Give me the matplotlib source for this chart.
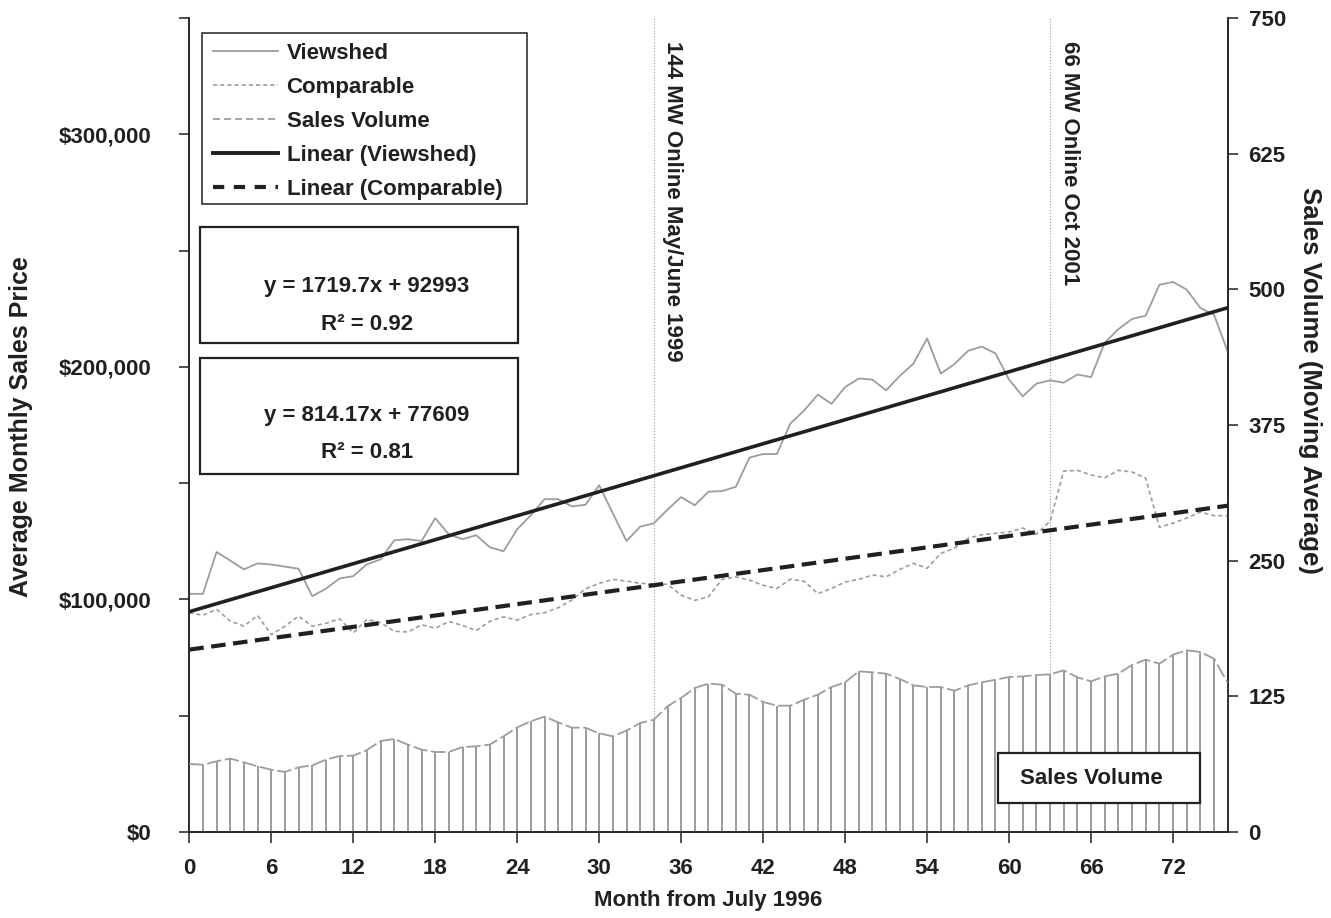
import matplotlib
matplotlib.use('Agg')
import matplotlib.pyplot as plt
from matplotlib.patches import Rectangle
from matplotlib.lines import Line2D
import matplotlib.transforms as mtransforms
import numpy as np

# Month index from July 1996
months = np.arange(77)

# Average monthly sales price, $ thousands
viewshed_k = [102.4, 102.4, 120.4, 116.7, 112.9, 115.5, 115.0, 114.1, 113.2, 101.4,
              104.6, 109.0, 110.0, 115.1, 117.2, 125.4, 125.9, 125.1, 134.9, 128.0,
              125.9, 127.6, 122.4, 120.7, 130.2, 136.2, 143.1, 143.1, 140.0, 140.7,
              149.1, 137.0, 125.1, 131.3, 132.7, 138.6, 144.0, 140.5, 146.3, 146.6,
              148.4, 161.0, 162.5, 162.5, 175.7, 181.2, 188.1, 184.1, 191.3, 195.0,
              194.5, 189.9, 196.1, 201.4, 212.2, 197.1, 201.2, 206.9, 208.7, 205.8,
              194.5, 187.3, 192.8, 194.2, 193.2, 196.7, 195.6, 210.4, 216.2, 220.6,
              222.0, 235.3, 236.5, 233.2, 225.3, 222.4, 206.5]

comparable_k = [94.3, 93.2, 95.7, 90.7, 88.5, 93.1, 84.9, 88.5, 92.8, 88.5,
                89.7, 91.7, 85.6, 91.4, 90.0, 86.3, 86.0, 89.1, 87.6, 90.5,
                88.8, 86.6, 90.6, 92.5, 91.1, 93.5, 94.3, 96.4, 99.7, 104.6,
                106.9, 108.6, 107.9, 106.9, 106.7, 106.5, 101.8, 99.6, 101.1, 108.7,
                109.7, 108.3, 106.1, 104.7, 108.7, 107.8, 102.5, 104.7, 107.5, 108.6,
                110.5, 109.7, 112.9, 115.5, 113.4, 119.8, 122.0, 126.3, 127.8, 128.4,
                129.0, 130.7, 128.1, 133.6, 155.2, 155.5, 153.5, 152.3, 155.5, 154.8,
                152.1, 131.0, 132.8, 135.0, 137.6, 136.0, 136.0]

# Sales volume (moving average)
volume = [62.6, 62.0, 65.1, 67.6, 64.2, 60.5, 57.4, 55.3, 59.6, 61.4,
          66.6, 70.0, 70.3, 75.5, 83.8, 85.7, 80.5, 75.9, 73.7, 73.7,
          78.3, 78.9, 80.5, 88.1, 96.4, 102.0, 106.3, 101.0, 96.1, 96.1,
          90.9, 88.1, 93.4, 100.4, 103.5, 115.8, 123.5, 132.7, 136.7, 135.7,
          127.4, 126.5, 119.8, 116.4, 116.4, 121.9, 126.5, 133.6, 137.9, 148.0,
          147.1, 145.9, 141.0, 135.1, 133.6, 133.6, 130.2, 135.1, 137.9, 140.3,
          142.8, 143.4, 144.6, 145.3, 148.9, 142.5, 138.8, 143.4, 145.9, 153.9,
          158.8, 155.1, 163.4, 167.4, 165.8, 159.7, 137.3]

# Excel trendline coefficients (x counted from 1)
trend_viewshed = (1719.7, 92993)
trend_comparable = (814.17, 77609)
r2_viewshed = 0.92
r2_comparable = 0.81

# Wind project events
event_months = [34, 63]
event_labels = ['144 MW Online May/June 1999', '66 MW Online Oct 2001']

viewshed = np.array(viewshed_k) * 1000
comparable = np.array(comparable_k) * 1000
xs = months + 1
lin_view = trend_viewshed[0] * xs + trend_viewshed[1]
lin_comp = trend_comparable[0] * xs + trend_comparable[1]

plt.rcParams['font.family'] = ['Liberation Sans', 'DejaVu Sans']
plt.rcParams['font.weight'] = 'bold'
plt.rcParams['font.size'] = 16

ink = '#231f20'
grey = '#989ea4'
bar_grey = '#8d959c'

fig = plt.figure(figsize=(13.31, 9.18), dpi=100)
ax = fig.add_axes([0.1422, 0.0937, 0.7802, 0.8867])
ax2 = ax.twinx()

# price series + trendlines
ax.plot(months, viewshed, color=grey, lw=1.3, zorder=3)
ax.plot(months, comparable, color=grey, lw=1.2, dashes=(2.5, 1.8), zorder=3)
ax.plot(months, lin_view, color=ink, lw=2.6, zorder=4)
ax.plot(months, lin_comp, color=ink, lw=3.0, dashes=(3.5, 1.8), zorder=4)

# event markers
trans = mtransforms.blended_transform_factory(ax.transData, ax.transAxes)
for m, lab in zip(event_months, event_labels):
    ax.axvline(m, color='#9a9a9a', lw=0.8, ls=':', zorder=2)
    ax.text(m + 1.4, 0.972, lab, rotation=270, ha='center', va='top',
            fontsize=16, fontweight='bold', color=ink, transform=trans)

# sales volume: drop lines + dashed outline
ax2.vlines(months, 0, volume, color=bar_grey, lw=1.3, zorder=2)
ax2.plot(months, volume, color=grey, lw=1.3, dashes=(8, 2), zorder=3)

ax.set_xlim(0, 76)
ax.set_ylim(0, 350000)
ax2.set_ylim(0, 750)

ax.set_xticks(np.arange(0, 73, 6))
ax.set_yticks([0, 100000, 200000, 300000])
ax.set_yticks([50000, 150000, 250000, 350000], minor=True)
ax.set_yticklabels(['${:,.0f}'.format(v) for v in [0, 100000, 200000, 300000]])
ax2.set_yticks(np.arange(0, 751, 125))

ax.tick_params(axis='y', which='both', direction='out', length=7, width=1.1,
               pad=20, labelsize=16, colors=ink)
ax.tick_params(axis='x', direction='out', length=8, width=1.1, pad=11,
               labelsize=16, colors=ink)
ax2.tick_params(axis='y', direction='out', length=7, width=1.1, pad=8,
                labelsize=16, colors=ink)

for a in (ax, ax2):
    a.spines['top'].set_visible(False)
    for s in ('left', 'right', 'bottom'):
        a.spines[s].set_linewidth(1.1)
        a.spines[s].set_color(ink)

fig.text(0.532, 0.019, 'Month from July 1996', ha='center', va='center',
         fontsize=16, fontweight='bold', color=ink)
fig.text(0.0158, 0.535, 'Average Monthly Sales Price', rotation=90, ha='center',
         va='center', fontsize=18, fontweight='bold', color=ink)
fig.text(0.984, 0.586, 'Sales Volume (Moving Average)', rotation=270, ha='center',
         va='center', fontsize=18.5, fontweight='bold', color=ink)

# legend (frame drawn separately so its size matches the original)
handles = [
    Line2D([], [], color=grey, lw=1.3),
    Line2D([], [], color=grey, lw=1.2, dashes=(2.5, 1.8)),
    Line2D([], [], color=grey, lw=1.3, dashes=(3.9, 2.2)),
    Line2D([], [], color=ink, lw=2.8),
    Line2D([], [], color=ink, lw=3.0, dashes=(2.7, 2.3)),
]
labels = ['Viewshed', 'Comparable', 'Sales Volume', 'Linear (Viewshed)',
          'Linear (Comparable)']
leg = ax2.legend(handles, labels, loc='upper left', bbox_to_anchor=(0.0231, 0.969),
                 borderaxespad=0, borderpad=0, fontsize=16, labelspacing=0.58,
                 handlelength=2.9, handletextpad=0.4, frameon=False)
for t in leg.get_texts():
    t.set_color(ink)
ax2.add_patch(Rectangle((0.0119, 0.7711), 0.313, 0.2101, transform=ax2.transAxes,
                        facecolor='white', edgecolor=ink, lw=1.1, zorder=4))
leg.set_zorder(7)

# trendline equation boxes
boxes = [
    (0.6011, 0.7429, 'y = 1719.7x + 92993', 'R² = %.2f' % r2_viewshed, 0.670, 0.624),
    (0.4398, 0.5819, 'y = 814.17x + 77609', 'R² = %.2f' % r2_comparable, 0.512, 0.466),
]
for y0, y1, eq, r2, ye, yr in boxes:
    ax2.add_patch(Rectangle((0.0103, y0), 0.3065, y1 - y0, transform=ax2.transAxes,
                            facecolor='white', edgecolor=ink, lw=1.6, zorder=5))
    ax2.text(0.171, ye, eq, transform=ax2.transAxes, ha='center', va='center',
             fontsize=16, fontweight='bold', color=ink, zorder=6)
    ax2.text(0.171, yr, r2, transform=ax2.transAxes, ha='center', va='center',
             fontsize=16, fontweight='bold', color=ink, zorder=6)

# sales volume label box
ax2.add_patch(Rectangle((0.779, 0.0353), 0.1943, 0.0614, transform=ax2.transAxes,
                        facecolor='white', edgecolor=ink, lw=1.6, zorder=5))
ax2.text(0.869, 0.0651, 'Sales Volume', transform=ax2.transAxes, ha='center',
         va='center', fontsize=16, fontweight='bold', color=ink, zorder=6)

fig.savefig('out.png', dpi=100)
plt.close(fig)
